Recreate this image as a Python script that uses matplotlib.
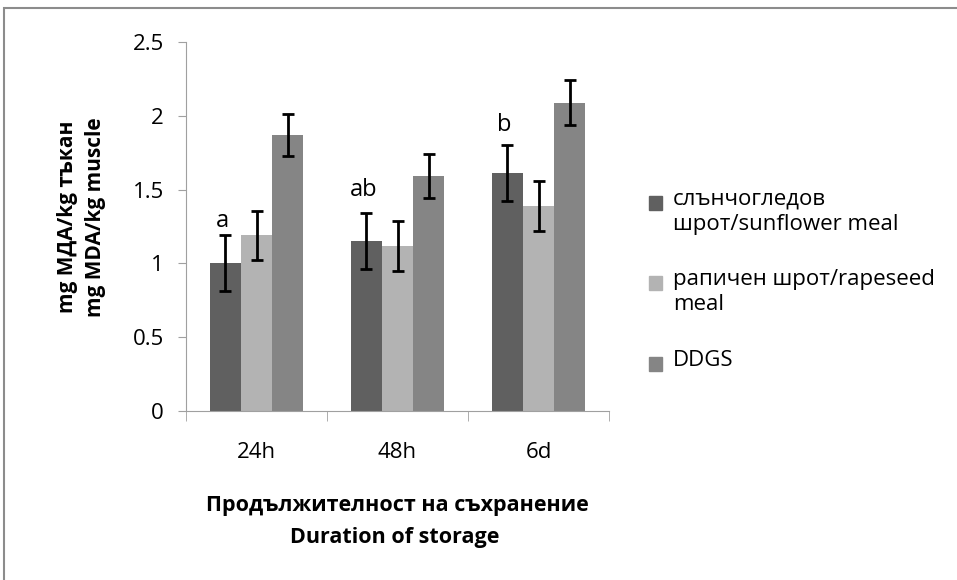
import matplotlib.pyplot as plt
import numpy as np
from matplotlib.patches import Rectangle

plt.rcParams['font.family'] = ['Open Sans', 'DejaVu Sans']

categories = ['24h', '48h', '6d']
series_names = ['слънчогледов\nшрот/sunflower meal', 'рапичен шрот/rapeseed\nmeal', 'DDGS']
sunflower = [1.00, 1.15, 1.61]
rapeseed = [1.19, 1.12, 1.39]
ddgs = [1.87, 1.59, 2.09]
sunflower_err = [0.19, 0.19, 0.19]
rapeseed_err = [0.165, 0.17, 0.17]
ddgs_err = [0.14, 0.15, 0.15]
letters = ['a', 'ab', 'b']
letter_y = [1.205, 1.415, 1.855]
colors = ['#606060', '#b3b3b3', '#858585']

W, H = 957, 580
fig = plt.figure(figsize=(W / 100, H / 100), dpi=100)
ax = fig.add_axes([186/W, 1 - 411/H, (609 - 186)/W, (411 - 42)/H])

# outer frame (only left/top edges visible in the picture)
fig.patches.append(Rectangle((4/W, -0.1), 1.2, 1 - 8/H + 0.1, transform=fig.transFigure,
                             fill=False, edgecolor='#8c8c8c', linewidth=1.5))

x = np.arange(len(categories))
w = 0.22
vals = [sunflower, rapeseed, ddgs]
errs = [sunflower_err, rapeseed_err, ddgs_err]
for i in range(3):
    ax.bar(x + (i - 1) * w, vals[i], w, color=colors[i],
           yerr=errs[i], error_kw=dict(ecolor='black', elinewidth=2, capsize=4.5, capthick=2))

for i, t in enumerate(letters):
    ax.text(x[i] - w - 0.02, letter_y[i], t, ha='center', va='bottom', fontsize=17)

ax.set_xlim(-0.5, 2.5)
ax.set_ylim(0, 2.5)
ax.set_yticks([0, 0.5, 1, 1.5, 2, 2.5])
ax.set_yticklabels(['0', '0.5', '1', '1.5', '2', '2.5'])
ax.set_xticks(x)
ax.set_xticklabels(categories)
ax.set_xticks([-0.5, 0.5, 1.5, 2.5], minor=True)
ax.tick_params(axis='x', which='major', length=0, pad=22, labelsize=16)
ax.tick_params(axis='x', which='minor', length=7, color='#a0a0a0')
ax.tick_params(axis='y', length=6, color='#a0a0a0', labelsize=16, pad=10)
for s in ['top', 'right']:
    ax.spines[s].set_visible(False)
for s in ['left', 'bottom']:
    ax.spines[s].set_color('#a0a0a0')

fig.text(67/W, 1 - 217/H, 'mg МДА/kg тъкан', rotation=90, ha='center', va='center',
         fontsize=15, fontweight='bold')
fig.text(95/W, 1 - 217/H, 'mg MDA/kg muscle', rotation=90, ha='center', va='center',
         fontsize=15, fontweight='bold')
fig.text(397/W, 1 - 505/H, 'Продължителност на съхранение', ha='center', va='center',
         fontsize=15.5, fontweight='bold')
fig.text(395/W, 1 - 538/H, 'Duration of storage', ha='center', va='center',
         fontsize=15.5, fontweight='bold')

# legend drawn by hand: square aligned with the first line of each label
leg_y = [203, 283, 364]
for i, name in enumerate(series_names):
    fig.patches.append(Rectangle((649/W, 1 - (leg_y[i] + 7)/H), 13/W, 14/H,
                                 transform=fig.transFigure, color=colors[i]))
    fig.text(673/W, 1 - (leg_y[i] - 14)/H, name, ha='left', va='top', fontsize=16,
             linespacing=1.25)

fig.savefig('out.png', dpi=100)
